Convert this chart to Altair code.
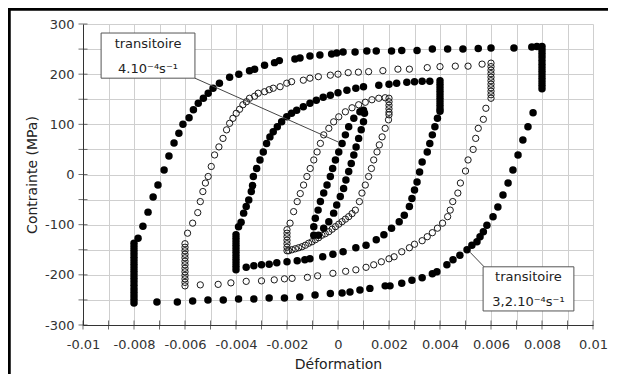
import altair as alt
import pandas as pd

# ---------------- data ----------------
# Loop A : filled, +/-0.008
A_relax_low_strain = -0.008
A_relax_low = [-256, -249, -242, -235, -228, -221, -214, -207, -200, -193, -186, -179, -172, -165, -158, -151, -144, -137]
A_up_strain = [-0.00784, -0.00765, -0.00745, -0.00725, -0.00706, -0.00682, -0.00663, -0.00643, -0.00624, -0.00608,
               -0.00584, -0.00567, -0.00548, -0.00528, -0.00509, -0.0049, -0.00465, -0.00425, -0.00389, -0.00347,
               -0.00327, -0.00288, -0.00249, -0.0023, -0.00169, -0.00149, -0.0011, -0.00071, -0.00025, -0.00005,
               0.0002, 0.00067, 0.00113, 0.0015, 0.0021, 0.0025, 0.0031, 0.0037, 0.0043, 0.0049,
               0.0055, 0.006, 0.0069, 0.0076, 0.0078, 0.008]
A_up_stress = [-127, -103, -75, -45, -21, 9, 37, 63, 82, 100,
               113, 129, 142, 152, 162, 172, 182, 194, 200, 207,
               210, 218, 223, 227, 230, 232, 236, 238, 240, 242,
               244, 244, 246, 246, 246, 247, 247, 250, 250, 250,
               251, 252, 252, 254, 255, 255]
A_relax_high_strain = 0.008
A_relax_high = [248, 241, 234, 227, 220, 213, 206, 199, 192, 185, 178, 171]
A_down_strain = [0.00765, 0.00745, 0.00725, 0.00706, 0.00686, 0.00667, 0.00647, 0.00627, 0.00608, 0.00584,
                 0.0057, 0.00557, 0.00545, 0.00525, 0.00506, 0.00478, 0.00451, 0.00427, 0.00388, 0.0037,
                 0.0033, 0.0029, 0.0025, 0.00204, 0.00185, 0.00125, 0.00086, 0.00047, 0.00016, -0.0003,
                 -0.0009, -0.0015, -0.0021, -0.0027, -0.0033, -0.0039, -0.0045, -0.0051, -0.0057, -0.0063,
                 -0.0071]
A_down_stress = [123, 95, 69, 39, 9, -17, -41, -65, -84, -101,
                 -114, -124, -134, -141, -150, -161, -170, -180, -194, -198,
                 -206, -211, -217, -222, -222, -227, -230, -234, -236, -237,
                 -240, -244, -246, -246, -248, -248, -250, -250, -252, -254,
                 -254]

# Loop B : open, +/-0.006
B_relax_low_strain = -0.006
B_relax_low = [-222, -215, -208, -201, -194, -187, -180, -173, -166, -159, -152, -145, -138]
B_up_strain = [-0.0059, -0.0057, -0.0055, -0.0054, -0.0053, -0.0052, -0.00509, -0.00497, -0.00484, -0.00467,
               -0.00451, -0.00437, -0.00425, -0.00412, -0.00399, -0.00386, -0.00373, -0.00359, -0.00347, -0.00327,
               -0.00313, -0.00288, -0.0027, -0.00254, -0.00227, -0.00201, -0.00182, -0.00136, -0.0011, -0.00077,
               -0.0003, 0.0, 0.0004, 0.0008, 0.0012, 0.00176, 0.00235, 0.0028, 0.0035, 0.004,
               0.0046, 0.0051, 0.00565, 0.006]
B_up_stress = [-117, -97, -76, -54, -34, -17, -4, 16, 39, 55,
               72, 89, 102, 112, 122, 130, 139, 145, 152, 156,
               162, 165, 169, 172, 175, 182, 185, 188, 192, 195,
               198, 200, 203, 204, 205, 207, 210, 210, 213, 215,
               216, 216, 220, 222]
B_relax_high_strain = 0.006
B_relax_high = [215, 208, 201, 194, 187, 180, 173, 166, 159, 152]
B_down_strain = [0.0058, 0.0057, 0.0055, 0.0054, 0.0053, 0.0051, 0.005, 0.0048, 0.0047, 0.0045,
                 0.0044, 0.0043, 0.0041, 0.0039, 0.0037, 0.0035, 0.0033, 0.003, 0.0028, 0.0025,
                 0.0022, 0.002, 0.0017, 0.0014, 0.0011, 0.0007, 0.0003, -0.0002, -0.0008, -0.0012,
                 -0.0018, -0.0021, -0.0025, -0.003, -0.0036, -0.0042, -0.0047, -0.0054]
B_down_stress = [132, 110, 92, 72, 50, 29, 7, -17, -37, -54,
                 -71, -84, -97, -107, -116, -124, -132, -139, -146, -154,
                 -164, -168, -174, -180, -185, -190, -193, -197, -202, -205,
                 -207, -208, -210, -212, -213, -216, -219, -220]

# Loop C : filled, +/-0.004
C_relax_low_strain = -0.004
C_relax_low = [-190, -183, -176, -169, -162, -155, -148, -141, -134, -127, -120]
C_up_strain = [-0.0039, -0.0038, -0.0037, -0.0036, -0.0035, -0.0034, -0.00335, -0.00332, -0.00319, -0.00306,
               -0.00293, -0.0028, -0.00267, -0.00254, -0.00238, -0.00221, -0.00201, -0.00182, -0.00162, -0.00136,
               -0.0011, -0.00085, -0.00058, -0.0003, 0.0, 0.00035, 0.0007, 0.001, 0.0016, 0.002,
               0.0023, 0.0027, 0.003, 0.0033, 0.0036, 0.004]
C_up_stress = [-104, -95, -77, -64, -51, -34, -22, -4, 12, 29,
               45, 62, 75, 85, 95, 105, 115, 122, 128, 135,
               142, 148, 154, 158, 163, 168, 172, 175, 178, 180,
               182, 184, 185, 186, 186, 187]
C_relax_high_strain = 0.004
C_relax_high = [180, 173, 166, 159, 152, 145, 138, 131, 126]
C_down_strain = [0.0039, 0.0038, 0.0037, 0.0036, 0.0035, 0.0033, 0.0032, 0.0031, 0.003, 0.0029,
                 0.0028, 0.0026, 0.0024, 0.0021, 0.0018, 0.0015, 0.0011, 0.0007, 0.0002, -0.0002,
                 -0.0006, -0.0011, -0.0013, -0.0016, -0.002, -0.0024, -0.0027, -0.003, -0.0033, -0.0036]
C_down_stress = [112, 95, 79, 62, 45, 25, 5, -15, -31, -48,
                 -64, -81, -94, -107, -120, -130, -141, -146, -154, -159,
                 -164, -168, -170, -172, -174, -176, -179, -180, -182, -185]

# Loop D : open, +/-0.002
D_relax_low_strain = -0.002
D_relax_low = [-152, -145, -138, -131, -124, -117, -110]
D_up_strain = [-0.00188, -0.00174, -0.0016, -0.00148, -0.00135, -0.00122, -0.00109, -0.00095, -0.00082, -0.00069,
               -0.00056, -0.00036, -0.00017, 0.00003, 0.00029, 0.00055, 0.00081, 0.00107, 0.00133, 0.0016,
               0.00185, 0.002]
D_up_stress = [-97, -74, -54, -38, -21, -4, 12, 29, 45, 62,
               79, 92, 105, 115, 125, 133, 139, 144, 149, 152,
               153, 152]
D_relax_high_strain = 0.002
D_relax_high = [145, 138, 131, 124, 119]
D_down_strain = [0.00198, 0.00185, 0.00173, 0.00162, 0.00153, 0.0014, 0.00131, 0.0012, 0.00107, 0.00094,
                 0.00084, 0.00068, 0.00055, 0.00042, 0.00029, 0.00016, 0.00003, -0.0001, -0.00023, -0.00036,
                 -0.0005, -0.00063, -0.00076, -0.00089, -0.00102, -0.00115, -0.00128, -0.00141, -0.00154, -0.00167,
                 -0.0018, -0.00193]
D_down_stress = [109, 92, 75, 59, 45, 29, 12, -4, -21, -37,
                 -54, -71, -78, -84, -89, -94, -99, -104, -109, -114,
                 -118, -121, -126, -130, -134, -137, -141, -144, -146, -148,
                 -150, -152]

# Loop E : filled, +/-0.001
E_up_strain = [-0.00095, -0.00077, -0.00056, -0.00036, -0.00017, -0.00005, 0.00009, 0.00022, 0.00031, 0.00042,
               0.00052, 0.00062, 0.00071, 0.00081, 0.00091, 0.001, 0.00104, 0.001]
E_up_stress = [-121, -121, -107, -94, -77, -61, -44, -28, -11, 6,
               22, 39, 55, 72, 89, 105, 122, 128]
E_down_strain = [0.00086, 0.00062, 0.00042, 0.00029, 0.00016, 0.00003, -0.0001, -0.00021, -0.0003, -0.00043,
                 -0.00056, -0.00069, -0.00078, -0.00089, -0.00095]
E_down_stress = [125, 112, 95, 79, 62, 45, 29, 12, -4, -21,
                 -37, -54, -71, -87, -104]

# axis ticks
X_TICKS = [-0.01, -0.009, -0.008, -0.007, -0.006, -0.005, -0.004, -0.003, -0.002, -0.001, 0,
           0.001, 0.002, 0.003, 0.004, 0.005, 0.006, 0.007, 0.008, 0.009, 0.01]
Y_TICKS = [-300, -250, -200, -150, -100, -50, 0, 50, 100, 150, 200, 250, 300]

# annotations
BOX_X0 = [-0.00929, 0.00569]
BOX_X1 = [-0.00561, 0.00925]
BOX_Y0 = [192, -272]
BOX_Y1 = [282, -184]
TXT_X = [-0.00745, 0.00747]
TXT_Y1 = [260, -204]
TXT_Y2 = [210, -254]
TXT_L1 = ["transitoire", "transitoire"]
TXT_L2 = ["4.10⁻⁴s⁻¹", "3,2.10⁻⁴s⁻¹"]
LEAD_X0 = [-0.00561, 0.00573]
LEAD_Y0 = [192, -184]
LEAD_X1 = [0.0, 0.00518]
LEAD_Y1 = [65, -155]

# ---------------- build tables ----------------
rows = []


def add(loop, filled, strains, stresses):
    for s, t in zip(strains, stresses):
        rows.append({"loop": loop, "filled": filled, "strain": s, "stress": t})


add("A", True, [A_relax_low_strain] * len(A_relax_low), A_relax_low)
add("A", True, A_up_strain, A_up_stress)
add("A", True, [A_relax_high_strain] * len(A_relax_high), A_relax_high)
add("A", True, A_down_strain, A_down_stress)
add("B", False, [B_relax_low_strain] * len(B_relax_low), B_relax_low)
add("B", False, B_up_strain, B_up_stress)
add("B", False, [B_relax_high_strain] * len(B_relax_high), B_relax_high)
add("B", False, B_down_strain, B_down_stress)
add("C", True, [C_relax_low_strain] * len(C_relax_low), C_relax_low)
add("C", True, C_up_strain, C_up_stress)
add("C", True, [C_relax_high_strain] * len(C_relax_high), C_relax_high)
add("C", True, C_down_strain, C_down_stress)
add("D", False, [D_relax_low_strain] * len(D_relax_low), D_relax_low)
add("D", False, D_up_strain, D_up_stress)
add("D", False, [D_relax_high_strain] * len(D_relax_high), D_relax_high)
add("D", False, D_down_strain, D_down_stress)
add("E", True, E_up_strain, E_up_stress)
add("E", True, E_down_strain, E_down_stress)

df = pd.DataFrame(rows)
df_filled = df[df["filled"]]
df_open = df[~df["filled"]]

ann = pd.DataFrame({
    "bx0": BOX_X0, "bx1": BOX_X1, "by0": BOX_Y0, "by1": BOX_Y1,
    "tx": TXT_X, "ty1": TXT_Y1, "ty2": TXT_Y2, "l1": TXT_L1, "l2": TXT_L2,
    "lx0": LEAD_X0, "ly0": LEAD_Y0, "lx1": LEAD_X1, "ly1": LEAD_Y1,
})
xt = pd.DataFrame({"t": X_TICKS})
yt = pd.DataFrame({"t": Y_TICKS})

FONT = "DejaVu Sans"
xscale = alt.Scale(domain=[-0.01, 0.01], nice=False, zero=False)
yscale = alt.Scale(domain=[-300, 300], nice=False, zero=False)

x_label_expr = ("abs(round(datum.value*1000)) % 2 == 1 ? '' : "
                "replace(format(datum.value, '.3~f'), '\u2212', '-')")
y_label_expr = "datum.value % 100 == 0 ? replace(format(datum.value, 'd'), '\u2212', '-') : ''"

x_axis = alt.Axis(values=X_TICKS, labelExpr=x_label_expr, title="Déformation", grid=True,
                  gridColor="#cfcfcf", gridWidth=1, domainColor="#333333", ticks=False,
                  labelPadding=13, titlePadding=6, labelFontSize=13, titleFontSize=14,
                  labelFont=FONT, titleFont=FONT, labelColor="#333333", titleColor="#222222",
                  titleFontWeight="normal", labelOverlap=False, labelFlush=False)
y_axis = alt.Axis(values=Y_TICKS, labelExpr=y_label_expr, title="Contrainte (MPa)", grid=True,
                  gridColor="#cfcfcf", gridWidth=1, domainColor="#333333", ticks=False,
                  labelPadding=9, titlePadding=5, labelFontSize=13, titleFontSize=14,
                  labelFont=FONT, titleFont=FONT, labelColor="#333333", titleColor="#222222",
                  titleFontWeight="normal", labelOverlap=False)

filled_layer = alt.Chart(df_filled).mark_circle(size=56, color="#000000", opacity=1).encode(
    x=alt.X("strain:Q", scale=xscale, axis=x_axis),
    y=alt.Y("stress:Q", scale=yscale, axis=y_axis),
)
open_layer = alt.Chart(df_open).mark_point(size=40, filled=False, color="#1a1a1a", strokeWidth=1,
                                           opacity=1).encode(
    x=alt.X("strain:Q", scale=xscale, axis=x_axis),
    y=alt.Y("stress:Q", scale=yscale, axis=y_axis),
)

# crossing ticks on both axes
xticks_layer = alt.Chart(xt).mark_tick(orient="vertical", size=9, thickness=1, color="#333333").encode(
    x=alt.X("t:Q", scale=xscale, axis=x_axis), y=alt.value(301))
yticks_layer = alt.Chart(yt).mark_tick(orient="horizontal", size=9, thickness=1, color="#333333").encode(
    y=alt.Y("t:Q", scale=yscale, axis=y_axis), x=alt.value(0))

lead_layer = alt.Chart(ann).mark_rule(color="#444444", strokeWidth=1).encode(
    x=alt.X("lx0:Q", scale=xscale, axis=x_axis),
    y=alt.Y("ly0:Q", scale=yscale, axis=y_axis),
    x2="lx1:Q", y2="ly1:Q",
)
box_layer = alt.Chart(ann).mark_rect(fill="#ffffff", stroke="#555555", strokeWidth=1).encode(
    x=alt.X("bx0:Q", scale=xscale, axis=x_axis), x2="bx1:Q",
    y=alt.Y("by0:Q", scale=yscale, axis=y_axis), y2="by1:Q",
)
txt1 = alt.Chart(ann).mark_text(font=FONT, fontSize=13, color="#222222").encode(
    x=alt.X("tx:Q", scale=xscale, axis=x_axis), y=alt.Y("ty1:Q", scale=yscale, axis=y_axis), text="l1:N")
txt2 = alt.Chart(ann).mark_text(font=FONT, fontSize=13, color="#222222").encode(
    x=alt.X("tx:Q", scale=xscale, axis=x_axis), y=alt.Y("ty2:Q", scale=yscale, axis=y_axis), text="l2:N")

frame_left = alt.Chart(ann).mark_rule(color="#000000", strokeWidth=3).encode(
    x=alt.value(-74), x2=alt.value(-74), y=alt.value(-15), y2=alt.value(400))
frame_top = alt.Chart(ann).mark_rule(color="#000000", strokeWidth=3).encode(
    x=alt.value(-75), x2=alt.value(600), y=alt.value(-15), y2=alt.value(-15))

chart = alt.layer(
    xticks_layer, yticks_layer, open_layer, filled_layer, lead_layer, box_layer, txt1, txt2,
    frame_left, frame_top
).properties(
    width=510, height=301,
    autosize=alt.AutoSizeParams(type="none"),
    padding={"left": 75, "top": 16, "right": 15, "bottom": 49},
    background="#ffffff",
).configure_view(stroke=None)

chart.save("out.html", embed_options={"renderer": "svg", "actions": False})
